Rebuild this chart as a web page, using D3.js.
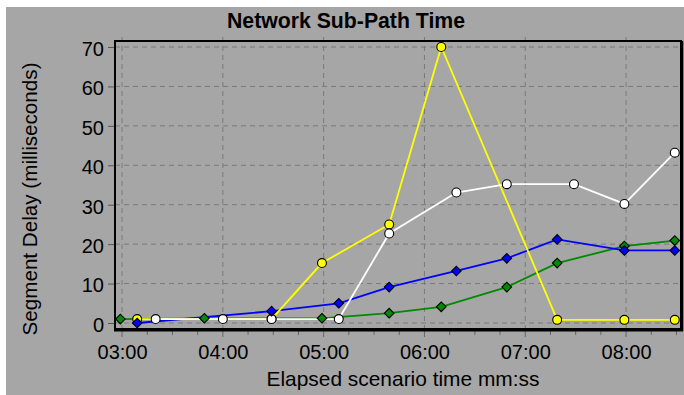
<!DOCTYPE html>
<html><head><meta charset="utf-8">
<script src="https://cdn.jsdelivr.net/npm/d3@7"></script>
<style>body{margin:0;background:#fff}svg{display:block}text{font-family:"Liberation Sans",Arial,sans-serif;fill:#000}</style>
</head><body><svg id="c" width="684" height="395"></svg>
<script>
// ---- data ----
const title = "Network Sub-Path Time";
const xTitle = "Elapsed scenario time mm:ss";
const yTitle = "Segment Delay (milliseconds)";
const xTickLabels = ["03:00","04:00","05:00","06:00","07:00","08:00"];
const yTickValues = [0,10,20,30,40,50,60,70];

const greenTimes  = ["02:59","03:49","04:59","05:39","06:10","06:49","07:19","07:59","08:29"];
const greenValues = [1, 1.2, 1.2, 2.5, 4.1, 9.1, 15.2, 19.5, 20.9];
const blueTimes   = ["03:09","04:29","05:09","05:39","06:19","06:49","07:19","07:59","08:29"];
const blueValues  = [0, 3.0, 5.0, 9.1, 13.2, 16.4, 21.2, 18.4, 18.4];
const yellowTimes = ["03:09","04:29","04:59","05:39","06:10","07:19","07:59","08:29"];
const yellowValues= [1, 1, 15.2, 25.0, 70, 0.8, 0.8, 0.8];
const whiteTimes  = ["03:20","04:00","04:29","05:09","05:39","06:19","06:49","07:29","07:59","08:29"];
const whiteValues = [1, 1, 1, 1, 22.7, 33.1, 35.2, 35.2, 30.2, 43.2];

const toSec = s => { const [m, ss] = s.split(":").map(Number); return m*60 + ss; };
const mk = (times, vals) => times.map((t,i)=>({t:toSec(t), v:vals[i]}));
const series = {
  green:  {data: mk(greenTimes, greenValues),  color:"#008a00", shape:"diamond"},
  blue:   {data: mk(blueTimes, blueValues),    color:"#0000ff", shape:"diamond"},
  yellow: {data: mk(yellowTimes, yellowValues),color:"#ffff00", shape:"circle"},
  white:  {data: mk(whiteTimes, whiteValues),  color:"#ffffff", shape:"circle"}
};

const svg = d3.select("#c");
const bg = "#a6a6a6";
svg.append("rect").attr("x",6).attr("y",7).attr("width",678).attr("height",388).attr("fill",bg);

const L=115, R=681, T=41, B=329;
const x = d3.scaleLinear().domain([175.8, 512.7]).range([L, R]);
const y = d3.scaleLinear().domain([-1.52, 71.52]).range([B, T]);

// grid
const g = svg.append("g");
const majorT = xTickLabels.map(toSec);
g.selectAll(".vg").data(majorT).enter().append("line")
  .attr("x1",d=>x(d)).attr("x2",d=>x(d)).attr("y1",T-4).attr("y2",B)
  .attr("stroke","#7a7a7a").attr("stroke-width",1).attr("stroke-dasharray","5,4");
g.selectAll(".hg").data(yTickValues).enter().append("line")
  .attr("x1",L).attr("x2",R).attr("y1",d=>y(d)).attr("y2",d=>y(d))
  .attr("stroke","#7a7a7a").attr("stroke-width",1).attr("stroke-dasharray","5,4");

// x axis ticks
const xAxis = d3.axisBottom(x).tickValues(majorT).tickSize(0).tickFormat((d,i)=>xTickLabels[i]);
const xa = svg.append("g").attr("transform",`translate(0,${B+1})`).call(xAxis);
xa.select(".domain").remove();
xa.selectAll("text").attr("y",15).attr("dy","0.71em").style("font-size","20px")
  .attr("font-family","Liberation Sans, Arial").attr("fill","#111");
// minor ticks every 15 s
const minor = d3.range(180-15, 512, 15).filter(t=>t>=176);
svg.selectAll(".mt").data(minor).enter().append("line")
  .attr("x1",d=>x(d)).attr("x2",d=>x(d)).attr("y1",B+2).attr("y2",d=>(d%60===0)?B+8:B+6)
  .attr("stroke","#666").attr("stroke-width",1);

// y axis
const yAxis = d3.axisLeft(y).tickValues(yTickValues).tickSize(6).tickPadding(4).tickFormat(d3.format("d"));
const ya = svg.append("g").attr("transform",`translate(${L-1},0)`).call(yAxis);
ya.select(".domain").remove();
ya.selectAll("line").attr("stroke","#555");
ya.selectAll("text").style("font-size","20px").attr("dy","0.42em").attr("fill","#111");

// frame
svg.append("rect").attr("x",L).attr("y",T).attr("width",R-L).attr("height",B-T)
  .attr("fill","none").attr("stroke","#000").attr("stroke-width",2);
svg.append("line").attr("x1",L-1).attr("x2",R+2).attr("y1",B+1.5).attr("y2",B+1.5).attr("stroke","#000").attr("stroke-width",2);
svg.append("line").attr("x1",R+1.5).attr("x2",R+1.5).attr("y1",T).attr("y2",B+2).attr("stroke","#000").attr("stroke-width",1.5);

// lines
const line = d3.line().x(d=>x(d.t)).y(d=>y(d.v));
["green","blue","yellow","white"].forEach(k=>{
  svg.append("path").datum(series[k].data).attr("d",line)
    .attr("fill","none").attr("stroke",series[k].color).attr("stroke-width",1.8);
});
// markers
["green","yellow","white","blue"].forEach(k=>{
  const s = series[k];
  const isC = s.shape==="circle";
  const sym = d3.symbol().type(isC?d3.symbolCircle:d3.symbolSquare).size(isC?62:46);
  svg.append("g").selectAll("path").data(s.data).enter().append("path")
    .attr("d",sym).attr("transform",d=>`translate(${x(d.t)},${y(d.v)})`+(isC?"":" rotate(45)"))
    .attr("fill",s.color).attr("stroke","#000").attr("stroke-width",1.1);
});

// titles
svg.append("text").attr("x",346).attr("y",28).attr("text-anchor","middle")
  .attr("font-weight","bold").style("font-size","22px")
  .attr("textLength",238).attr("lengthAdjust","spacingAndGlyphs").text(title);
svg.append("text").attr("x",403).attr("y",386).attr("text-anchor","middle")
  .style("font-size","21px").attr("fill","#111")
  .attr("textLength",273).attr("lengthAdjust","spacingAndGlyphs").text(xTitle);
svg.append("text").attr("transform","translate(37,199) rotate(-90)").attr("text-anchor","middle")
  .style("font-size","20.5px").attr("fill","#111")
  .attr("textLength",273).attr("lengthAdjust","spacingAndGlyphs").text(yTitle);
</script></body></html>
